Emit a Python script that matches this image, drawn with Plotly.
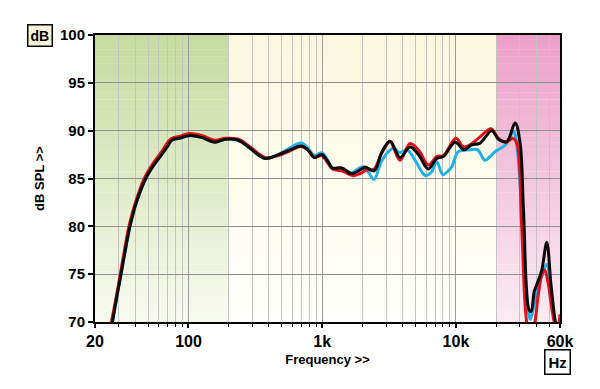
import plotly.graph_objects as go

# ---------------- data ----------------
freq_black = [27, 29, 31.3, 34, 36.5, 41, 47.9, 55, 63, 70, 75, 85, 102.7, 125, 158, 188, 236, 289, 373,
              470, 575, 695, 780, 873, 992, 1100, 1191, 1400, 1663, 1977, 2092, 2443, 2800, 3217, 3820,
              4540, 5240, 6220, 7190, 8060, 9860, 11500, 13000, 15160, 18550, 20780, 23990, 27680, 30180,
              32000, 35240, 36470, 38500, 40230, 43800, 47760, 51300, 55130, 56500]
spl_black = [70.0, 72.5, 75.0, 77.8, 80.0, 82.6, 85.0, 86.4, 87.5, 88.4, 89.0, 89.2, 89.5, 89.3, 88.8, 89.1,
             89.0, 88.15, 87.1, 87.5, 88.0, 88.4, 88.0, 87.2, 87.5, 86.8, 86.1, 86.1, 85.5, 86.0, 86.2, 85.8,
             87.8, 88.9, 87.2, 88.3, 87.5, 86.0, 87.1, 87.3, 88.8, 88.0, 88.5, 88.7, 90.0, 89.1, 88.85, 90.8,
             88.7, 81.7, 71.25, 71.1, 73.2, 73.9, 75.4, 78.3, 74.0, 70.2, 69.5]

freq_red = [26.5, 29, 31, 33.5, 36, 41, 47, 55, 63, 70, 75, 85, 102, 125, 158, 188, 236, 289, 373, 470,
            575, 695, 780, 873, 992, 1100, 1191, 1400, 1700, 1977, 2150, 2443, 2800, 3217, 3820, 4540,
            5300, 6220, 7190, 8060, 10000, 11370, 13000, 15000, 18300, 20780, 23990, 26500, 28500, 31000,
            34000, 36500, 39000, 41000, 44000, 46000, 49000, 52000, 55000, 57500, 60000]
spl_red = [70.0, 72.8, 75.1, 77.8, 80.1, 82.9, 85.1, 86.7, 87.8, 88.8, 89.2, 89.4, 89.7, 89.5, 89.0, 89.2,
           89.1, 88.3, 87.2, 87.4, 87.9, 88.35, 88.0, 87.2, 87.4, 86.6, 86.0, 85.8, 85.3, 85.6, 85.9, 86.0,
           87.7, 88.85, 86.9, 88.65, 87.9, 86.4, 87.3, 87.4, 89.2, 88.3, 88.6, 89.3, 90.2, 89.2, 88.8, 89.2,
           88.7, 80.0, 69.8, 68.5, 70.0, 72.5, 75.0, 75.4, 74.0, 71.5, 69.8, 69.5, 70.8]

freq_cyan = [27, 29, 31.3, 34, 36.5, 41, 47.9, 55, 63, 70, 75, 85, 102.7, 125, 158, 188, 236, 289, 373,
             470, 575, 695, 780, 873, 992, 1100, 1191, 1400, 1663, 1977, 2200, 2443, 2800, 3400, 3800,
             4300, 4900, 5500, 5900, 6500, 7190, 7960, 8600, 9300, 10400, 12700, 14500, 16500, 18000,
             19600, 23400, 26900, 28500, 31500, 34500, 36000, 38000, 40230, 43000, 47760, 51000, 53300, 55500]
spl_cyan = [70.0, 72.5, 75.0, 77.8, 80.0, 82.6, 85.0, 86.4, 87.5, 88.4, 89.0, 89.2, 89.5, 89.3, 88.8, 89.1,
            89.0, 88.15, 87.1, 87.5, 88.2, 88.7, 88.2, 87.4, 87.7, 86.9, 86.1, 86.0, 85.6, 86.2, 85.7, 84.9,
            86.9, 88.15, 87.7, 88.0, 87.0, 85.8, 85.3, 85.6, 86.75, 85.4, 85.7, 86.2, 87.8, 88.0, 88.0, 86.9,
            87.3, 87.8, 88.5, 89.9, 88.5, 80.0, 71.5, 70.3, 71.5, 73.3, 74.5, 76.0, 73.5, 71.2, 69.8]

tick_vals = [20, 100, 1000, 10000, 60000]
tick_text = ["20", "100", "1k", "10k", "60k"]
minor_vals = [30, 40, 50, 60, 70, 80, 90, 200, 300, 400, 500, 600, 700, 800, 900,
              2000, 3000, 4000, 5000, 6000, 7000, 8000, 9000, 20000, 30000, 40000, 50000]

# background bands: (start Hz, end Hz, top colour, bottom colour)
bands = [
    (20, 200, (198, 219, 158), (248, 250, 240)),
    (200, 20000, (251, 248, 222), (255, 255, 252)),
    (20000, 60000, (236, 160, 200), (250, 236, 243)),
]

Y_MIN, Y_MAX = 70, 100
X_MIN, X_MAX = 20, 60000

fig = go.Figure()

# gradient background as stacked horizontal strips
N = 40
shapes = []
for f0, f1, ctop, cbot in bands:
    for i in range(N):
        t = (i + 0.5) / N  # 0 bottom -> 1 top
        c = tuple(round(cbot[k] + (ctop[k] - cbot[k]) * t) for k in range(3))
        y0 = Y_MIN + (Y_MAX - Y_MIN) * i / N
        y1 = Y_MIN + (Y_MAX - Y_MIN) * (i + 1) / N
        shapes.append(dict(type="rect", xref="x", yref="y", layer="below",
                           x0=f0, x1=f1, y0=y0, y1=min(y1 + 0.02, Y_MAX),
                           fillcolor="rgb(%d,%d,%d)" % c, line=dict(width=0)))

fig.add_trace(go.Scatter(x=freq_cyan, y=spl_cyan, mode="lines", line=dict(color="#1eb0e8", width=3),
                         showlegend=False, line_shape="spline"))
fig.add_trace(go.Scatter(x=freq_red, y=spl_red, mode="lines", line=dict(color="#e3101c", width=3),
                         showlegend=False, line_shape="spline"))
fig.add_trace(go.Scatter(x=freq_black, y=spl_black, mode="lines", line=dict(color="#0a0a0a", width=3),
                         showlegend=False, line_shape="spline"))

FAM = "Arial, Liberation Sans, sans-serif"

fig.update_layout(
    width=592, height=381,
    margin=dict(l=87, r=40, t=27, b=67),
    paper_bgcolor="white", plot_bgcolor="white",
    shapes=shapes,
    font=dict(family=FAM, size=14, color="black", weight="bold"),
    xaxis=dict(
        type="log", range=[1.30103, 4.77815],
        tickmode="array", tickvals=tick_vals, ticktext=tick_text,
        ticks="outside", ticklen=4, tickwidth=1.5, tickcolor="black",
        showline=True, linecolor="black", linewidth=2, mirror=True,
        showgrid=True, gridcolor="#9a9a9a", gridwidth=1,
        minor=dict(tickmode="array", tickvals=minor_vals, ticks="outside", ticklen=3,
                   tickcolor="black", tickwidth=1, showgrid=True, gridcolor="#c4c4c4", gridwidth=1),
        tickfont=dict(family=FAM, size=16, color="black", weight="bold"),
        title=dict(text="Frequency >>", standoff=6,
                   font=dict(family=FAM, size=13, color="black", weight="bold")),
        zeroline=False,
    ),
    yaxis=dict(
        range=[Y_MIN, Y_MAX], dtick=5, tick0=70,
        ticks="outside", ticklen=5, tickwidth=1.5, tickcolor="black",
        showline=True, linecolor="black", linewidth=2, mirror=True,
        showgrid=True, gridcolor="#8f8f8f", gridwidth=1,
        tickfont=dict(family=FAM, size=15, color="black", weight="bold"),
        title=dict(text="dB SPL >>", standoff=12,
                   font=dict(family=FAM, size=13, color="black", weight="bold")),
        zeroline=False,
    ),
    annotations=[
        dict(text="dB", xref="paper", yref="paper", x=-0.09, y=1.0, xanchor="right", yanchor="middle",
             showarrow=False, bgcolor="#faf5d8", bordercolor="black", borderwidth=1.5, borderpad=2,
             font=dict(family=FAM, size=14, color="black", weight="bold")),
        dict(text="Hz", xref="paper", yref="paper", x=1.0, y=-0.094, xanchor="left", yanchor="top",
             xshift=-16, showarrow=False, bgcolor="white", bordercolor="black", borderwidth=1.5, borderpad=3,
             font=dict(family=FAM, size=15, color="black", weight="bold")),
    ],
)

fig.write_html("out.html")
